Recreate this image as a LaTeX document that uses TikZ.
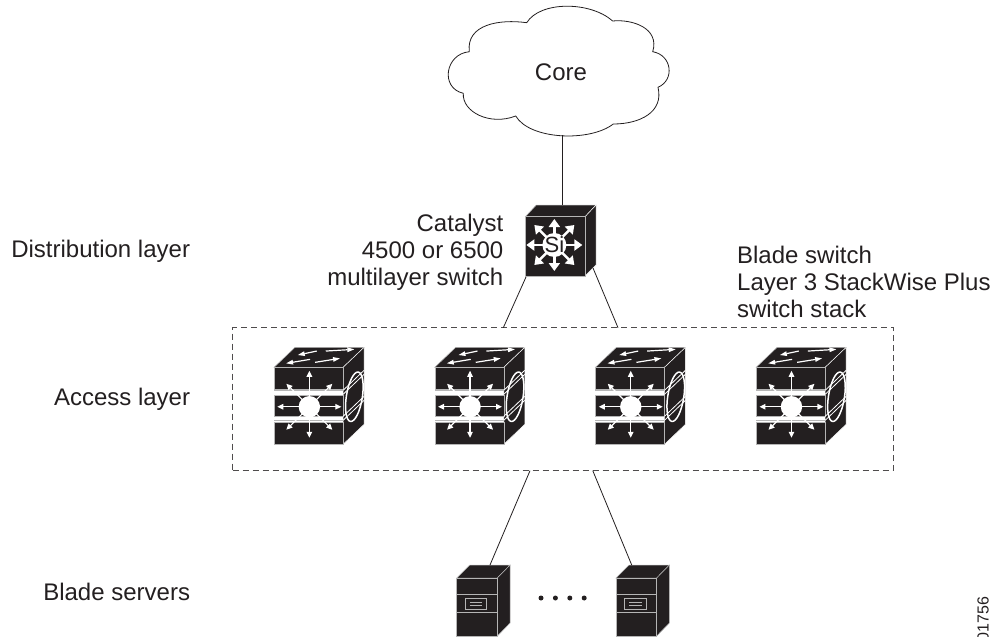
\documentclass[tikz,border=0pt]{standalone}
\usepackage{fontspec}
\setmainfont{Liberation Sans}
\usepackage{tikz}
\usetikzlibrary{arrows.meta}
\usetikzlibrary{positioning}
\definecolor{icon}{HTML}{231F20}
\definecolor{edgegray}{HTML}{B5B5B5}

\tikzset{
  access icon/.pic={
    % faces, the origin is the north west corner of the node
    \fill[icon,draw=edgegray,line width=.5pt] (0,20) -- (21,0) -- (90,0) -- (69,20) -- cycle;
    \fill[icon,draw=white,line width=.5pt] (69,20) -- (90,0) -- (90,77) -- (69,97) -- cycle;
    \fill[icon,draw=edgegray,line width=.5pt] (0,20) rectangle (69,41.5);
    \fill[icon,draw=edgegray,line width=.5pt] (0,47.5) rectangle (69,69);
    \fill[icon,draw=edgegray,line width=.5pt] (0,75) rectangle (69,97);
    \draw[edgegray,line width=.9pt] (0,43.5) -- (69,43.5) (0,73) -- (69,73);
    \draw[white,line width=.8pt] (69,43) -- (90,23) (69,47) -- (90,27) (69,69) -- (90,49) (69,73) -- (90,53);
    \draw[white,line width=1.5pt] (80.3,49.4) ellipse [x radius=8,y radius=25,rotate=-9];
    % top face
    \draw[white,line width=1.2pt,-{Triangle[length=7pt,width=4.5pt]}] (42.7,3.7) -- (23.7,7.7);
    \draw[white,line width=1.2pt,-{Triangle[length=7pt,width=4.5pt]}] (51.7,3.7) -- (80.3,2);
    \draw[white,line width=1.2pt,-{Triangle[length=7pt,width=4.5pt]}] (36,12) -- (12,16);
    \draw[white,line width=1.2pt,-{Triangle[length=7pt,width=4.5pt]}] (41,15) -- (66,11);
    % front face
    \foreach \dx/\dy in {0/-36,0/31,-32/0,32/0,-23/-23,23/-23,-23/23,23/23}
      \draw[white,line width=1.2pt,-{Triangle[length=6pt,width=5.5pt]}] (35.3,59.4) -- +(\dx,\dy);
    \fill[white] (35.3,59.4) circle (10.7);
  },
  core icon/.pic={
    \fill[icon,draw=edgegray,line width=.5pt] (0,11.7) -- (11,0) -- (70.7,0) -- (59.7,11.7) -- cycle;
    \fill[icon,draw=white,line width=.5pt] (59.7,11.7) -- (70.7,0) -- (70.7,60) -- (59.7,71) -- cycle;
    \fill[icon,draw=edgegray,line width=.5pt] (0,11.7) rectangle (59.7,71);
    \foreach \dx/\dy in {0/-26,0/26,-28/0,28/0,-20/-20,20/-20,-20/20,20/20}
      \draw[white,line width=2.4pt,-{Triangle[length=8pt,width=11pt]}] (29,40) -- +(\dx,\dy);
    \fill[white] (29,40) circle (12);
  },
  server icon/.pic={
    \fill[icon,draw=edgegray,line width=.5pt] (0,13) -- (13,0) -- (53.3,0) -- (40.6,13) -- cycle;
    \fill[icon,draw=edgegray,line width=.5pt] (40.6,13) -- (53.3,0) -- (53.3,58) -- (40.6,71) -- cycle;
    \fill[icon,draw=edgegray,line width=.7pt] (0,13) rectangle (40.6,71);
    \draw[edgegray,line width=.8pt] (0,29) -- (40.6,29) (0,47.3) -- (40.6,47.3);
    \draw[edgegray,line width=.8pt] (8.6,33.3) rectangle (30,44.7);
    \draw[edgegray,line width=.8pt] (13,37.3) -- (25.6,37.3) (13,40.7) -- (25.6,40.7);
  }
}

\begin{document}
\begin{tikzpicture}
  [x=1pt,y=-1pt,node distance=70.4pt and 70.4pt,
   switch node/.style={rectangle,inner sep=0pt,outer sep=0pt,minimum width=90.3pt,minimum height=96.7pt},
   core node/.style={rectangle,inner sep=0pt,outer sep=0pt,minimum width=70.7pt,minimum height=71pt},
   server node/.style={rectangle,inner sep=0pt,outer sep=0pt,minimum width=53.3pt,minimum height=71pt},
   dot node/.style={circle,fill=icon,inner sep=0pt,minimum size=5pt},
   text node/.style={inner sep=0pt,outer sep=0pt,text=icon,font=\fontsize{24}{27}\selectfont},
   every edge/.style={draw,icon,line width=.8pt}]
  \useasboundingbox (0,0) rectangle (993,637);

  \node[text node]    (Core)            at (561,72)     {Core};
  \node[core node]    (DistSwitch)      at (560.7,240.5) {};
  \node[switch node]  (AccessSwitch1)   at (319.2,395.7) {};
  \node[switch node]  (AccessSwitch2)   [right= of AccessSwitch1] {};
  \node[switch node]  (AccessSwitch3)   [right= of AccessSwitch2] {};
  \node[switch node]  (AccessSwitch4)   [right= of AccessSwitch3] {};
  \node[rectangle,draw=icon!80,line width=.8pt,dash pattern=on 6pt off 4pt,minimum width=660.5pt,minimum height=143pt,inner sep=0pt,outer sep=0pt]
                      (AccessBox)       at (562.8,399.2) {};
  \node[server node]  (Server1)         at (483.4,600.5) {};
  \node[server node]  (Server2)         [right=106pt of Server1] {};
  \node[dot node]     (Dot1)            at (541,598) {};
  \node[dot node]     (Dot2)            [right=9pt of Dot1] {};
  \node[dot node]     (Dot3)            [right=9pt of Dot2] {};
  \node[dot node]     (Dot4)            [right=9pt of Dot3] {};

  \node[text node,align=right] (Catalyst) [left=22pt of DistSwitch,yshift=-11.5pt]
    {Catalyst\\4500 or 6500\\multilayer switch};
  \node[text node,align=left]  (BladeSwitch) [above right=12pt and -19pt of AccessSwitch4.north west,anchor=south west,yshift=18pt]
    {Blade switch\\Layer 3 StackWise Plus\\switch stack};
  \node[text node] (AccessLayer) [left=84pt of AccessSwitch1,yshift=-4pt] {Access layer};
  \node[text node] (DistLayer)   [above=126pt of AccessLayer.north east,anchor=south east] {Distribution layer};
  \node[text node] (ServerLayer) [below=172pt of AccessLayer.south east,anchor=north east] {Blade servers};
  \node[inner sep=0pt,text=icon,font=\fontsize{16}{16}\selectfont,rotate=90,anchor=south west] (FigureId) at (989,641.5) {01756};

  % icons on top of the empty nodes
  \foreach \name in {AccessSwitch1,AccessSwitch2,AccessSwitch3,AccessSwitch4}
    \pic at (\name.north west) {access icon};
  \pic at (DistSwitch.north west) {core icon};
  \node[inner sep=0pt,text=icon,font=\fontsize{22}{22}\selectfont] (Si) at ([shift={(29,40)}]DistSwitch.north west) {Si};
  \foreach \name in {Server1,Server2}
    \pic at (\name.north west) {server icon};

  % cloud
  \draw[icon,line width=.8pt] (526.7,22.7)
    .. controls (540,1) and (590,1) .. (612.7,21)
    .. controls (632,19) and (660,28) .. (652.7,51.7)
    .. controls (672,55) and (675,80) .. (658,87.3)
    .. controls (664,112) and (640,124) .. (613.3,124)
    .. controls (590,142) and (530,140) .. (515.7,116)
    .. controls (490,126) and (462,112) .. (463.3,93.3)
    .. controls (440,88) and (445,54) .. (469.3,51.7)
    .. controls (466,24) and (500,19) .. (526.7,22.7);

  \coordinate (CoreBase)    at (562.3,135);
  \coordinate (DistTop)     at (562.3,205);
  \coordinate (DistLeft)    at (526,277);
  \coordinate (DistRight)   at (593,268);
  \coordinate (BoxTopLeft)  at ([xshift=-59.5pt]AccessBox.north);
  \coordinate (BoxTopRight) at ([xshift=55.2pt]AccessBox.north);
  \coordinate (BoxLowLeft)  at ([xshift=-32.8pt]AccessBox.south);
  \coordinate (BoxLowRight) at ([xshift=30pt]AccessBox.south);
  \coordinate (Server1Top)  at ([xshift=6.6pt]Server1.north);
  \coordinate (Server2Top)  at ([xshift=-11pt]Server2.north);

  \path
    (CoreBase)    edge (DistTop)
    (DistLeft)    edge (BoxTopLeft)
    (DistRight)   edge (BoxTopRight)
    (BoxLowLeft)  edge (Server1Top)
    (BoxLowRight) edge (Server2Top)
    ;

\end{tikzpicture}
\end{document}
